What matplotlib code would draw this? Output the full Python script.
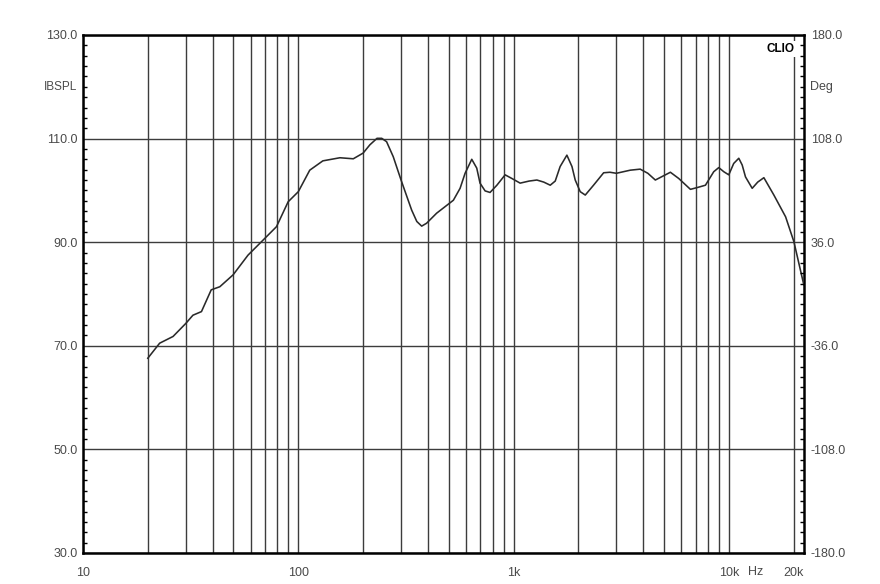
import numpy as np
import matplotlib
matplotlib.use('Agg')
from matplotlib import pyplot as plt
from matplotlib.ticker import FixedLocator, NullFormatter

plt.rcParams['font.family'] = ['Liberation Sans', 'DejaVu Sans']

# SPL curve
freq = [20, 22.7, 26.2, 30, 32.4, 35.5, 39.4, 43.2, 49.8, 58.4, 68.6, 79.2, 89.7,
        100, 113, 130, 156, 180, 200, 215, 232, 244, 257, 276, 300, 336, 355, 374,
        394, 439, 525, 564, 595, 639, 674, 698, 737, 777, 836, 913, 981, 1072,
        1180, 1282, 1380, 1479, 1560, 1644, 1767, 1866, 1932, 2038, 2151, 2350,
        2618, 2800, 3000, 3480, 3870, 4200, 4550, 5345, 5843, 6622, 7200, 7776,
        8495, 8965, 9464, 9980, 10520, 11108, 11517, 11933, 12820, 13600, 14525,
        16163, 18323, 20020, 22283]
spl = [67.6, 70.5, 71.8, 74.3, 75.9, 76.6, 80.8, 81.4, 83.7, 87.5, 90.4, 93.0, 97.8,
       99.75, 103.9, 105.7, 106.3, 106.1, 107.2, 108.8, 110.05, 110.05, 109.4, 106.5,
       102.0, 96.2, 94.0, 93.1, 93.65, 95.6, 98.1, 100.4, 103.3, 106.0, 104.3, 101.4,
       99.9, 99.6, 101.0, 103.0, 102.3, 101.4, 101.8, 102.0, 101.6, 101.0, 101.8,
       104.6, 106.8, 104.6, 102.0, 99.75, 99.1, 101.0, 103.4, 103.5, 103.3, 103.9,
       104.1, 103.3, 102.0, 103.5, 102.3, 100.2, 100.6, 101.0, 103.6, 104.4, 103.6,
       103.0, 105.2, 106.2, 104.9, 102.6, 100.4, 101.6, 102.45, 99.1, 94.9, 90.1, 81.7]

x_major = [10, 100, 1000, 10000, 20000]
x_major_labels = ['10', '100', '1k', '10k', '20k']
x_grid = [20, 30, 40, 50, 60, 70, 80, 90,
          200, 300, 400, 500, 600, 700, 800, 900,
          2000, 3000, 4000, 5000, 6000, 7000, 8000, 9000]
y_major = [30, 50, 70, 90, 110, 130]
deg_major = [-180, -108, -36, 36, 108, 180]

TXT = '#4a4a4a'
GRID = '#3c3c3c'

fig = plt.figure(figsize=(8.8, 5.84), dpi=100)
ax = fig.add_axes([0.0943, 0.0531, 0.8193, 0.8870])

ax.set_xscale('log')
ax.set_xlim(10, 22300)
ax.set_ylim(30, 130)

ax.plot(freq, spl, color='#2a2a2a', lw=1.15, zorder=3)

# grid
ax.xaxis.set_major_locator(FixedLocator(x_major))
ax.xaxis.set_minor_locator(FixedLocator(x_grid))
ax.set_xticklabels(x_major_labels)
ax.xaxis.set_minor_formatter(NullFormatter())
ax.grid(True, which='both', axis='x', color=GRID, lw=1.0)
ax.set_yticks(y_major)
ax.set_yticklabels(['%.1f' % v for v in y_major])
ax.yaxis.set_minor_locator(FixedLocator(np.arange(30, 131, 2)))
ax.grid(True, which='major', axis='y', color=GRID, lw=1.0)

ax.tick_params(axis='x', which='both', length=0, pad=10, labelsize=9, labelcolor=TXT)
ax.tick_params(axis='y', which='major', length=0, pad=4, labelsize=9, labelcolor=TXT)
ax.tick_params(axis='y', which='minor', direction='in', length=3, width=1, color='black')

for s in ax.spines.values():
    s.set_linewidth(1.8)
    s.set_color('black')

# phase axis on the right
ax2 = ax.twinx()
ax2.set_ylim(-180, 180)
ax2.set_yticks(deg_major)
ax2.set_yticklabels(['%.1f' % v for v in deg_major])
ax2.yaxis.set_minor_locator(FixedLocator(np.arange(-180, 181, 7.2)))
ax2.tick_params(axis='y', which='major', length=0, pad=5, labelsize=9, labelcolor=TXT)
ax2.tick_params(axis='y', which='minor', direction='in', length=3, width=1, color='black')
for s in ax2.spines.values():
    s.set_visible(False)

ax.text(-0.008, 120, 'IBSPL', transform=ax.get_yaxis_transform(),
        ha='right', va='center', fontsize=8.5, color=TXT)
ax.text(1.008, 120, 'Deg', transform=ax.get_yaxis_transform(),
        ha='left', va='center', fontsize=9, color=TXT)
ax.text(13300, -0.036, 'Hz', transform=ax.get_xaxis_transform(),
        ha='center', va='center', fontsize=9, color=TXT)
ax.text(0.9875, 0.985, 'CLIO', transform=ax.transAxes, ha='right', va='top',
        fontsize=8.5, fontweight='bold', color='black', zorder=5,
        bbox=dict(facecolor='white', edgecolor='none', pad=1.5))

fig.savefig('out.png', dpi=100)
